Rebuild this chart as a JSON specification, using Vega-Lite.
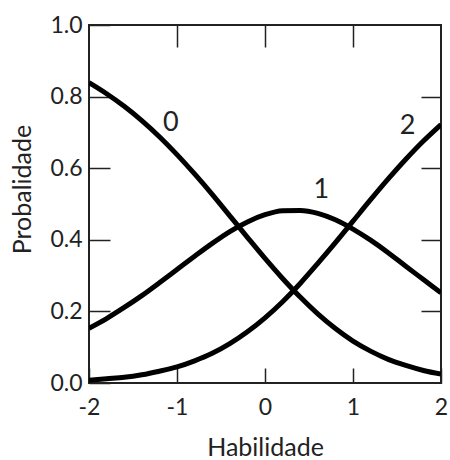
{
  "$schema": "https://vega.github.io/schema/vega-lite/v6.json",
  "width": 352,
  "height": 358,
  "autosize": "none",
  "padding": {"left": 89, "top": 25, "right": 9, "bottom": 77},
  "background": "white",
  "config": {
    "view": {"stroke": "#222", "strokeWidth": 2},
    "axis": {
      "domain": false,
      "grid": false,
      "labelFont": "Lato",
      "titleFont": "Lato",
      "labelColor": "#222",
      "titleColor": "#222",
      "tickColor": "#222",
      "tickWidth": 1.5,
      "labelFontSize": 23,
      "titleFontSize": 25,
      "titleFontWeight": "normal",
      "labelFlush": false,
      "labelOverlap": false
    }
  },
  "datasets": {
    "curves": [
      {"theta": -2.0, "p": 0.839, "cat": "0"},
      {"theta": -1.8, "p": 0.808, "cat": "0"},
      {"theta": -1.6, "p": 0.773, "cat": "0"},
      {"theta": -1.4, "p": 0.733, "cat": "0"},
      {"theta": -1.2, "p": 0.688, "cat": "0"},
      {"theta": -1.0, "p": 0.638, "cat": "0"},
      {"theta": -0.8, "p": 0.584, "cat": "0"},
      {"theta": -0.6, "p": 0.527, "cat": "0"},
      {"theta": -0.4, "p": 0.467, "cat": "0"},
      {"theta": -0.2, "p": 0.407, "cat": "0"},
      {"theta": 0.0, "p": 0.348, "cat": "0"},
      {"theta": 0.2, "p": 0.292, "cat": "0"},
      {"theta": 0.4, "p": 0.240, "cat": "0"},
      {"theta": 0.6, "p": 0.193, "cat": "0"},
      {"theta": 0.8, "p": 0.152, "cat": "0"},
      {"theta": 1.0, "p": 0.117, "cat": "0"},
      {"theta": 1.2, "p": 0.089, "cat": "0"},
      {"theta": 1.4, "p": 0.066, "cat": "0"},
      {"theta": 1.6, "p": 0.049, "cat": "0"},
      {"theta": 1.8, "p": 0.035, "cat": "0"},
      {"theta": 2.0, "p": 0.025, "cat": "0"},
      {"theta": -2.0, "p": 0.153, "cat": "1"},
      {"theta": -1.8, "p": 0.180, "cat": "1"},
      {"theta": -1.6, "p": 0.211, "cat": "1"},
      {"theta": -1.4, "p": 0.244, "cat": "1"},
      {"theta": -1.2, "p": 0.280, "cat": "1"},
      {"theta": -1.0, "p": 0.317, "cat": "1"},
      {"theta": -0.8, "p": 0.354, "cat": "1"},
      {"theta": -0.6, "p": 0.390, "cat": "1"},
      {"theta": -0.4, "p": 0.423, "cat": "1"},
      {"theta": -0.2, "p": 0.450, "cat": "1"},
      {"theta": 0.0, "p": 0.470, "cat": "1"},
      {"theta": 0.2, "p": 0.481, "cat": "1"},
      {"theta": 0.4, "p": 0.482, "cat": "1"},
      {"theta": 0.6, "p": 0.474, "cat": "1"},
      {"theta": 0.8, "p": 0.456, "cat": "1"},
      {"theta": 1.0, "p": 0.430, "cat": "1"},
      {"theta": 1.2, "p": 0.399, "cat": "1"},
      {"theta": 1.4, "p": 0.364, "cat": "1"},
      {"theta": 1.6, "p": 0.326, "cat": "1"},
      {"theta": 1.8, "p": 0.289, "cat": "1"},
      {"theta": 2.0, "p": 0.252, "cat": "1"},
      {"theta": -2.0, "p": 0.008, "cat": "2"},
      {"theta": -1.8, "p": 0.012, "cat": "2"},
      {"theta": -1.6, "p": 0.016, "cat": "2"},
      {"theta": -1.4, "p": 0.023, "cat": "2"},
      {"theta": -1.2, "p": 0.033, "cat": "2"},
      {"theta": -1.0, "p": 0.045, "cat": "2"},
      {"theta": -0.8, "p": 0.062, "cat": "2"},
      {"theta": -0.6, "p": 0.083, "cat": "2"},
      {"theta": -0.4, "p": 0.110, "cat": "2"},
      {"theta": -0.2, "p": 0.143, "cat": "2"},
      {"theta": 0.0, "p": 0.182, "cat": "2"},
      {"theta": 0.2, "p": 0.227, "cat": "2"},
      {"theta": 0.4, "p": 0.278, "cat": "2"},
      {"theta": 0.6, "p": 0.334, "cat": "2"},
      {"theta": 0.8, "p": 0.392, "cat": "2"},
      {"theta": 1.0, "p": 0.452, "cat": "2"},
      {"theta": 1.2, "p": 0.512, "cat": "2"},
      {"theta": 1.4, "p": 0.570, "cat": "2"},
      {"theta": 1.6, "p": 0.625, "cat": "2"},
      {"theta": 1.8, "p": 0.676, "cat": "2"},
      {"theta": 2.0, "p": 0.722, "cat": "2"}
    ],
    "labels": [
      {"theta": -1.07, "p": 0.726, "label": "0"},
      {"theta": 0.64, "p": 0.539, "label": "1"},
      {"theta": 1.62, "p": 0.718, "label": "2"}
    ]
  },
  "layer": [
    {
      "data": {"name": "curves"},
      "mark": {"type": "line", "color": "#000", "strokeWidth": 5, "interpolate": "monotone", "clip": true},
      "encoding": {
        "x": {
          "field": "theta", "type": "quantitative",
          "scale": {"domain": [-2, 2], "nice": false, "zero": false},
          "axis": {"orient": "bottom", "values": [-2, -1, 0, 1, 2], "labelExpr": "replace(datum.label, '−', '-')", "tickSize": -15, "labelPadding": 28, "title": "Habilidade", "titlePadding": 16}
        },
        "y": {
          "field": "p", "type": "quantitative",
          "scale": {"domain": [0, 1], "nice": false},
          "axis": {"orient": "left", "values": [0, 0.2, 0.4, 0.6, 0.8, 1], "format": ".1f", "tickSize": -21, "labelPadding": 28, "title": "Probalidade", "titleX": -54, "titleY": 164, "titleAngle": -90, "titleBaseline": "bottom", "titleAlign": "center"}
        },
        "detail": {"field": "cat"}
      }
    },
    {
      "data": {"name": "labels"},
      "mark": {"type": "text", "fontSize": 27, "font": "Lato", "color": "#222"},
      "encoding": {
        "x": {
          "field": "theta", "type": "quantitative",
          "axis": {"orient": "top", "values": [-1, 0, 1], "labels": false, "tickSize": -22, "title": null}
        },
        "y": {
          "field": "p", "type": "quantitative",
          "axis": {"orient": "right", "values": [0.2, 0.4, 0.6, 0.8], "labels": false, "tickSize": -20, "title": null}
        },
        "text": {"field": "label"}
      }
    }
  ],
  "resolve": {"axis": {"x": "independent", "y": "independent"}}
}
